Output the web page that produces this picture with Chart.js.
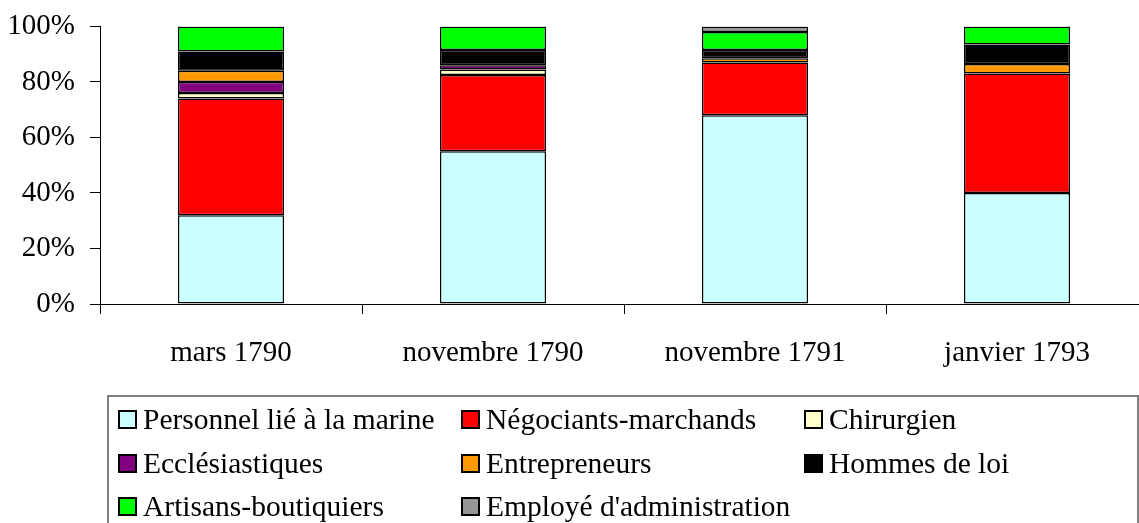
<!DOCTYPE html>
<html>
<head>
<meta charset="utf-8">
<script src="https://cdn.jsdelivr.net/npm/chart.js"></script>
<style>
  html, body { margin: 0; padding: 0; background: #fff; overflow: hidden; width: 1139px; height: 523px; }
  #wrap { position: absolute; left: 0; top: -6px; width: 1150px; height: 406px; }
  #legend { position: absolute; left: 107px; top: 395px; width: 1028px; height: 160px; border: 2px solid #808080; font-family: "Liberation Serif", "Times New Roman", serif; font-size: 29.5px; color: #000; }
  .item { position: absolute; display: flex; align-items: center; white-space: nowrap; }
  .box { width: 15px; height: 15px; border: 2px solid #000; margin-right: 6px; }
</style>
</head>
<body>
<div id="wrap"><canvas id="chart"></canvas></div>
<div id="legend"></div>
<script>
// periods on the x axis
const categories = ['mars 1790', 'novembre 1790', 'novembre 1791', 'janvier 1793']
const yTicks = [0, 20, 40, 60, 80, 100]

// share of each group (%), bottom to top
const marine = [32, 55, 68, 40]
const negociants = [42, 27.5, 19, 43]
const chirurgien = [2, 2, null, null]
const ecclesiastiques = [4, 1.5, null, null]
const entrepreneurs = [4, null, 1.5, 3.5]
const hommesDeLoi = [7, 5.5, 3, 7]
const artisans = [9, 8.5, 6.5, 6.5]
const employe = [null, null, 2, null]

const seriesNames = ['Personnel lié à la marine', 'Négociants-marchands', 'Chirurgien', 'Ecclésiastiques',
  'Entrepreneurs', 'Hommes de loi', 'Artisans-boutiquiers', "Employé d'administration"]
const seriesData = [marine, negociants, chirurgien, ecclesiastiques, entrepreneurs, hommesDeLoi, artisans, employe]
const seriesColors = ['#ccffff', '#ff0000', '#ffffcc', '#800080', '#ff9900', '#000000', '#00ff00', '#969696']

const font = { family: '"Liberation Serif", "Times New Roman", serif', size: 29 }

const datasets = seriesNames.map((name, i) => ({
  label: name,
  data: seriesData[i],
  backgroundColor: seriesColors[i],
  borderColor: '#000',
  borderWidth: 1.5,
  borderSkipped: false,
  barPercentage: 0.405,
  categoryPercentage: 1
}))

new Chart(document.getElementById('chart'), {
  type: 'bar',
  data: { labels: categories, datasets },
  options: {
    responsive: true,
    maintainAspectRatio: false,
    animation: false,
    layout: { autoPadding: false, padding: { top: 27, right: 2, bottom: 0, left: 0 } },
    plugins: { legend: { display: false }, tooltip: { enabled: false } },
    scales: {
      x: {
        stacked: true,
        grid: { offset: true, drawOnChartArea: false, drawTicks: true, tickLength: 10, color: '#000' },
        border: { display: true, color: '#000', width: 1 },
        ticks: { color: '#000', font, padding: 22, maxRotation: 0 },
        afterFit: s => { s.height = 96 }
      },
      y: {
        stacked: true,
        min: 0,
        max: 100,
        afterBuildTicks: s => { s.ticks = yTicks.map(v => ({ value: v })) },
        grid: { drawOnChartArea: false, drawTicks: true, tickLength: 10, color: '#000' },
        border: { display: true, color: '#000', width: 1 },
        ticks: { color: '#000', font, padding: 15, callback: v => v + '%' },
        afterFit: s => { s.width = 100 }
      }
    }
  }
})

// legend laid out in three columns like the original
const legend = document.getElementById('legend')
const colX = [9, 352, 695]
const rowY = [22, 66, 109]
seriesNames.forEach((name, i) => {
  const el = document.createElement('div')
  el.className = 'item'
  el.style.left = colX[i % 3] + 'px'
  el.style.top = (rowY[Math.floor(i / 3)] - 17) + 'px'
  el.style.height = '34px'
  el.innerHTML = '<span class="box" style="background:' + seriesColors[i] + '"></span><span>' + name + '</span>'
  legend.appendChild(el)
})
</script>
</body>
</html>
